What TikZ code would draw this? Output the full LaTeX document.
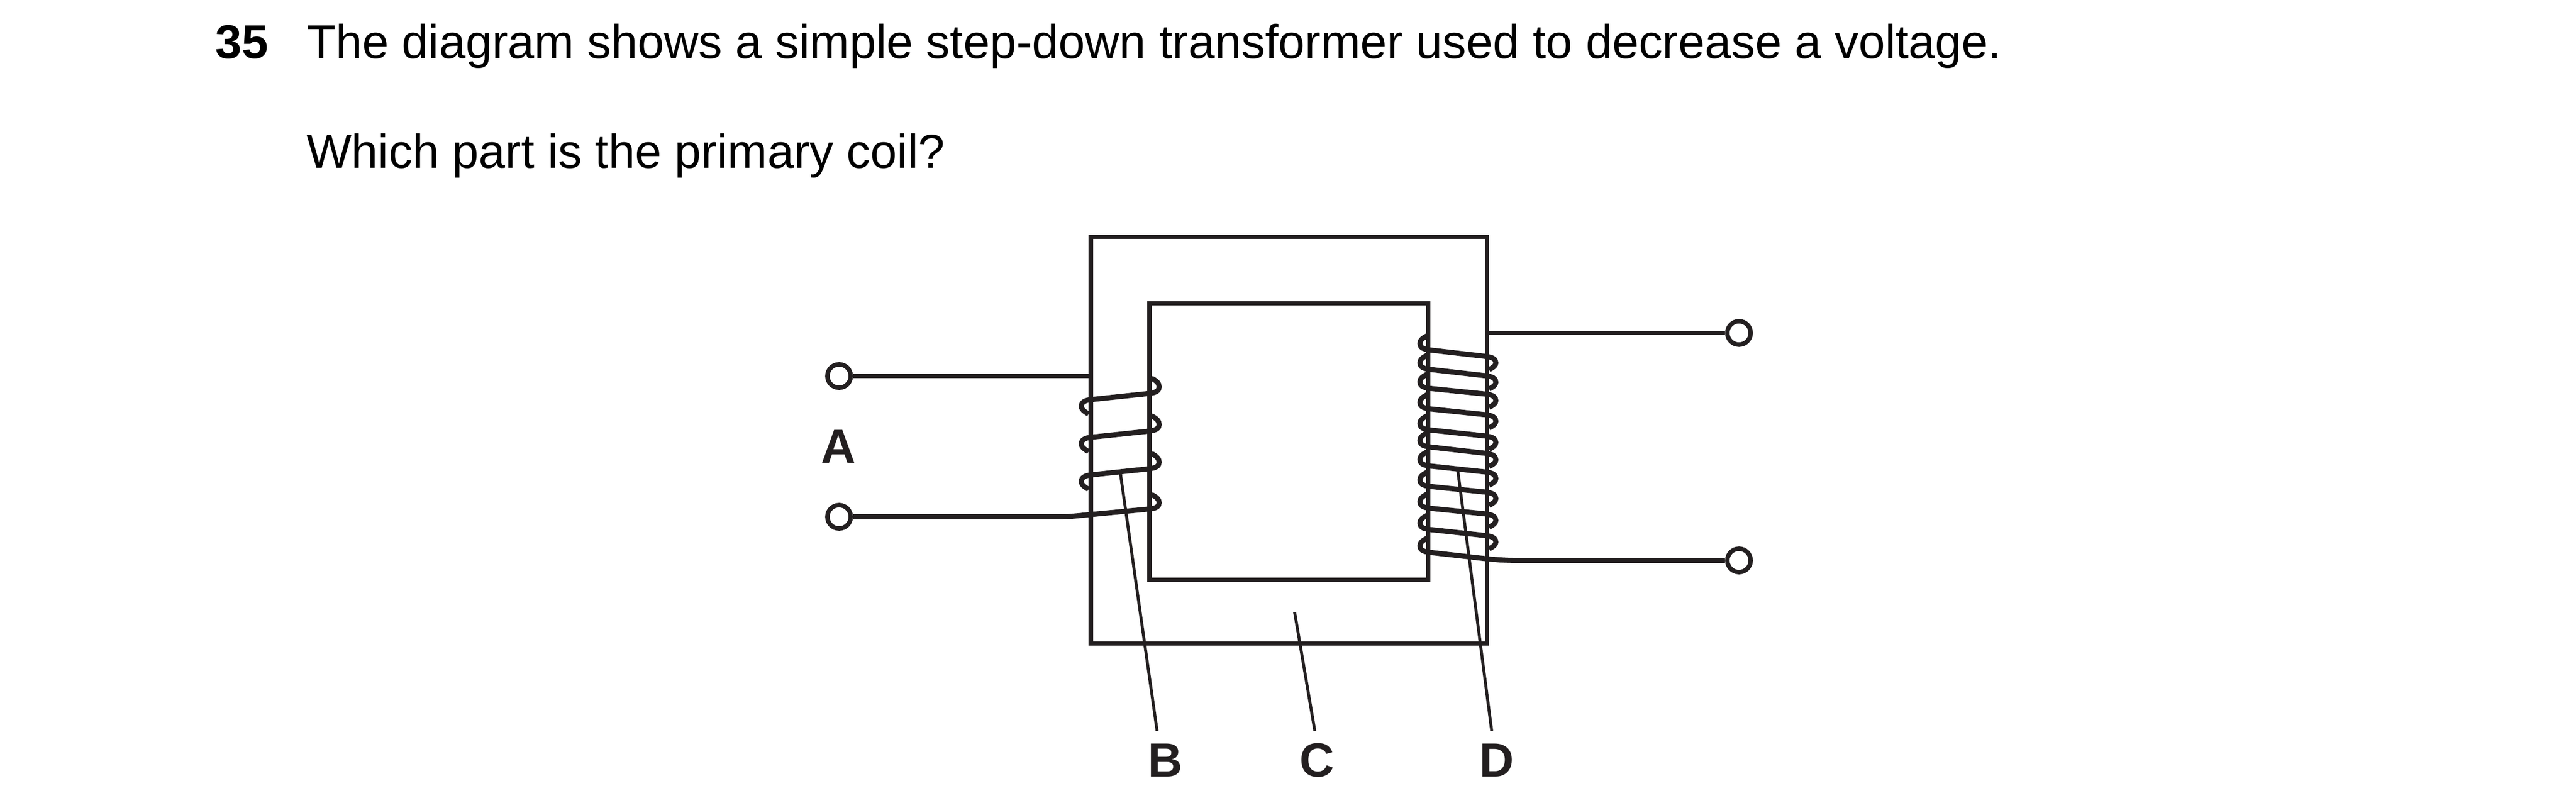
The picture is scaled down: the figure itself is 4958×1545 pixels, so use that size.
\documentclass[tikz,border=0pt]{standalone}
\usepackage{fontspec}
\setmainfont{Liberation Sans}
\definecolor{ink}{HTML}{231F20}
\tikzset{
  core/.style={draw=ink,line width=4.9pt,line cap=butt,line join=miter},
  coilwire/.style={draw=ink,line width=5.6pt,line cap=butt,line join=round},
  leader/.style={draw=ink,line width=3.2pt},
  lead/.style={draw=ink,line width=4.9pt},
  terminal/.style={circle,draw=ink,line width=4.9pt,minimum size=0.9cm,inner sep=0pt},
  optlabel/.style={anchor=base,inner sep=0pt,text=ink,font=\fontsize{52.5}{60}\selectfont\bfseries},
  question/.style={anchor=base west,inner sep=0pt,text=black,font=\fontsize{52.2}{60}\selectfont},
}
\begin{document}
\begin{tikzpicture}[x=0.02cm,y=-0.02cm]
\useasboundingbox (0,0) rectangle (4958,1545);
\node[question,font=\fontsize{52.2}{60}\selectfont\bfseries] (num) at (414,112) {35};
\node[question] (q1) at (590,112) {The diagram shows a simple step-down transformer used to decrease a voltage.};
\node[question] (q2) at (590,323) {Which part is the primary coil?};
% core
\draw[core] (2099.5,456) rectangle (2862,1239);
\draw[core] (2212.5,584) rectangle (2749,1116);
% terminals
\node[terminal] (t1) at (1615,724) {};
\node[terminal] (t2) at (1615,995) {};
\node[terminal] (t3) at (3347,641) {};
\node[terminal] (t4) at (3347,1079) {};
\coordinate (p1) at (2099,724);
\coordinate (s1) at (2862,641);
\draw[lead] (t1) -- (p1);
\draw[lead] (t3) -- (s1);
% primary coil
\foreach \o in {0,72.5,145}{
  \draw[coilwire] (2216,728+\o) .. controls (2226,733+\o) and (2231,738+\o) .. (2231,745+\o)
    .. controls (2231,752+\o) and (2225,756+\o) .. (2212,757.5+\o) -- (2103,769+\o)
    .. controls (2088,770+\o) and (2081,775+\o) .. (2081,782+\o)
    .. controls (2081,788+\o) and (2088,793+\o) .. (2095,797+\o);
}
\coordinate (p2) at (2035,995);
\draw[coilwire] (2216,952) .. controls (2226,957) and (2231,961) .. (2231,968)
  .. controls (2231,975) and (2225,979) .. (2212,980) -- (2090,991.5) .. controls (2070,993.5) and (2055,995) .. (p2);
\draw[coilwire] (p2) -- (t2);
% secondary coil
\foreach \l/\r in {673.3/686.7,710.7/724,747.3/759.3,786.7/799,827.3/840,860/873.3,896.7/909.3,936/948,978/990,1019/1031.7}{
  \draw[coilwire] (2747,\l-27) .. controls (2738,\l-22) and (2733,\l-19) .. (2733,\l-12)
    .. controls (2733,\l-5) and (2738,\l-1) .. (2752,\l+0.5) -- (2860,\r-0.5)
    .. controls (2873,\r+1) and (2879,\r+5) .. (2879,\r+12)
    .. controls (2879,\r+18) and (2873,\r+21) .. (2866,\r+25);
}
\coordinate (s2) at (2920,1079);
\draw[coilwire] (2747,1036) .. controls (2738,1041) and (2733,1044) .. (2733,1051)
  .. controls (2733,1058) and (2738,1062) .. (2752,1063.5) -- (2863,1076) .. controls (2880,1077.5) and (2900,1079) .. (s2);
\draw[coilwire] (s2) -- (t4);
% leaders
\coordinate (bs) at (2155.6,905.7);
\coordinate (be) at (2227,1407);
\coordinate (cs) at (2491.7,1178.6);
\coordinate (ce) at (2530.6,1407);
\coordinate (ds) at (2804.8,898.6);
\coordinate (de) at (2871,1407);
\draw[leader] (bs) -- (be);
\draw[leader] (cs) -- (ce);
\draw[leader] (ds) -- (de);
% labels
\node[optlabel] (A) at (1613.5,891) {A};
\node[optlabel] (B) at (2243,1495) {B};
\node[optlabel] (C) at (2535,1495) {C};
\node[optlabel] (D) at (2881,1495) {D};
\end{tikzpicture}
\end{document}
